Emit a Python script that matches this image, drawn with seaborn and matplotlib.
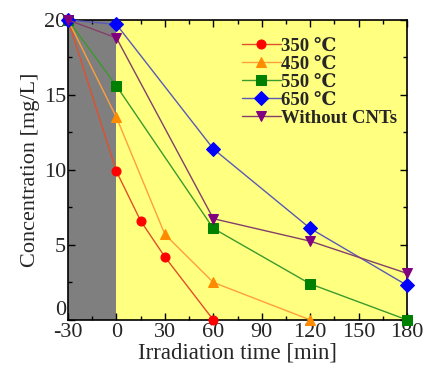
import matplotlib
matplotlib.use("Agg")
import matplotlib.pyplot as plt
import seaborn as sns
import pandas as pd
from matplotlib.ticker import MultipleLocator

sns.set_theme(style="ticks")
plt.rcParams['font.family'] = ['Liberation Serif', 'DejaVu Serif']
plt.rcParams['axes.unicode_minus'] = False

series = ["350 ℃", "450 ℃", "550 ℃", "650 ℃", "Without CNTs"]
t350 = [-30, 0, 15, 30, 60]
c350 = [20, 9.9, 6.6, 4.2, 0]
t450 = [-30, 0, 30, 60, 120]
c450 = [20, 13.5, 5.7, 2.5, 0]
t550 = [-30, 0, 60, 120, 180]
c550 = [20, 15.6, 6.1, 2.4, 0]
t650 = [-30, 0, 60, 120, 180]
c650 = [20, 19.7, 11.4, 6.1, 2.3]
t_wo = [-30, 0, 60, 120, 180]
c_wo = [20, 18.8, 6.75, 5.25, 3.1]

xticks = [-30, 0, 30, 60, 90, 120, 150, 180]
yticks = [0, 5, 10, 15, 20]

frames = []
for name, t, c in zip(series, [t350, t450, t550, t650, t_wo], [c350, c450, c550, c650, c_wo]):
    frames.append(pd.DataFrame({"time": t, "conc": c, "series": name}))
df = pd.concat(frames, ignore_index=True)

line_colors = ["#E0502A", "#FF9F3A", "#3C9A2C", "#5A5AB4", "#84406A"]
marker_colors = ["#FF0000", "#FF8C00", "#008000", "#0000FF", "#800080"]
markers = ["o", "^", "s", "D", "v"]
msizes = [6.5, 6.5, 6.5, 7.5, 6.5]

fig = plt.figure(figsize=(4.25, 3.69), dpi=100)
ax = fig.add_axes([0.16, 0.133, 0.798, 0.813])

ax.axvspan(-30, 0, color="#7F7F7F", zorder=0, lw=0)
ax.axvspan(0, 180, color="#FFFF80", zorder=0, lw=0)

for i, name in enumerate(series):
    sub = df[df["series"] == name]
    sns.lineplot(data=sub, x="time", y="conc", ax=ax, color=line_colors[i],
                 lw=1.0, marker=markers[i], markersize=msizes[i],
                 markerfacecolor=marker_colors[i], markeredgecolor=marker_colors[i],
                 label=name, zorder=3, clip_on=False)

ax.set_xlim(-30, 180)
ax.set_ylim(0, 20)
ax.set_xticks(xticks)
ax.set_yticks(yticks)
ax.xaxis.set_minor_locator(MultipleLocator(15))
ax.yaxis.set_minor_locator(MultipleLocator(2.5))
ax.tick_params(which="both", direction="in", top=True, right=True, labelsize=16,
               color="black")
ax.tick_params(axis="x", pad=2.5)
ax.tick_params(axis="y", pad=1.5)
ax.tick_params(which="major", length=5, width=1)
ax.tick_params(which="minor", length=3, width=1)
for s in ax.spines.values():
    s.set_color("black")
    s.set_linewidth(1.2)

ax.set_xlabel("Irradiation time [min]", fontsize=16.5, labelpad=0)
ax.set_ylabel("Concentration [mg/L]", fontsize=16, labelpad=3)

# lift the y "0" label slightly so it does not collide with the x "-30" label
ax.get_yticklabels()[0].set_verticalalignment("bottom")

leg = ax.legend(loc="upper left", bbox_to_anchor=(0.49, 0.967), frameon=False,
                prop={"weight": "bold", "size": 13.5}, handlelength=2.1,
                handletextpad=0.0, labelspacing=0.05, borderaxespad=0)

fig.savefig("out.png", dpi=100)
